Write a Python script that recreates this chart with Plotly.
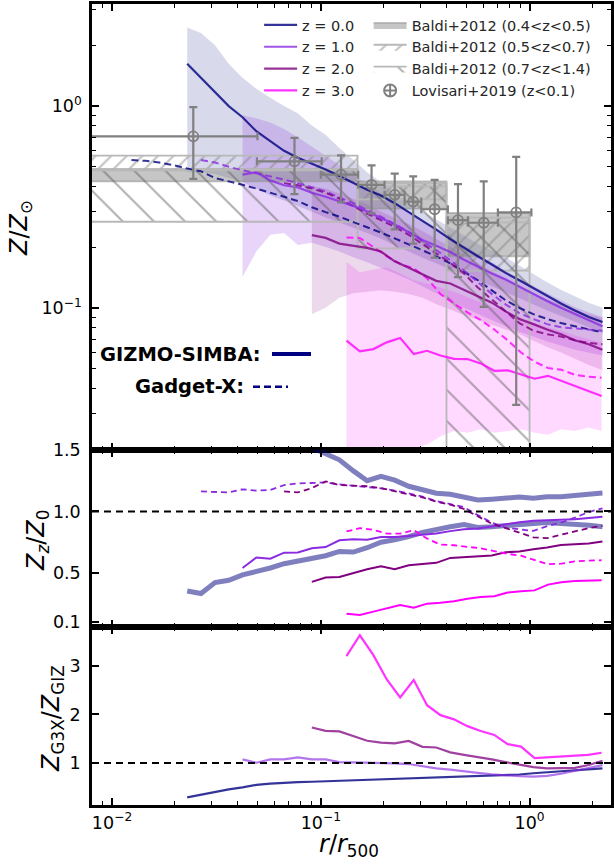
import plotly.graph_objects as go
from plotly.subplots import make_subplots

# ---------------- data ----------------
# common radial bins (r / r500)
r_grid = [0.02291, 0.02667, 0.03112, 0.03622, 0.04217, 0.04909, 0.05728, 0.06668,
          0.07762, 0.09057, 0.1054, 0.1227, 0.1432, 0.1667, 0.1941, 0.2259, 0.2636,
          0.3069, 0.3573, 0.4169, 0.4853, 0.5649, 0.6592, 0.7674, 0.8933, 1.042,
          1.213, 1.413, 1.648, 1.919, 2.234]
r_inner_g3x = [0.01239, 0.01445, 0.01683, 0.01963]
r_z3 = [0.1327, 0.1538, 0.1786, 0.2070, 0.2399, 0.2786, 0.3228, 0.3741, 0.4345, 0.5035,
        0.5834, 0.6776, 0.7852, 0.9099, 1.057, 1.225, 1.419, 1.644, 1.910, 2.213]

# GIZMO-SIMBA profiles Z/Zsun
giz_z0 = [1.62, 1.38, 1.18, 1.00, 0.88, 0.75, 0.67, 0.60, 0.555, 0.52, 0.485, 0.45, 0.415,
          0.385, 0.36, 0.33, 0.298, 0.27, 0.244, 0.219, 0.198, 0.18, 0.164, 0.149, 0.137,
          0.125, 0.114, 0.105, 0.097, 0.090, 0.085]
giz_z1 = [0.457, 0.469, 0.428, 0.405, 0.395, 0.372, 0.355, 0.336, 0.32, 0.30, 0.279, 0.259,
          0.237, 0.217, 0.203, 0.189, 0.173, 0.16, 0.148, 0.138, 0.127, 0.117, 0.108, 0.100,
          0.093, 0.087, 0.081]
giz_z2 = [0.229, 0.222, 0.208, 0.203, 0.198, 0.19, 0.17, 0.158, 0.146, 0.136, 0.132, 0.123,
          0.114, 0.106, 0.096, 0.088, 0.083, 0.078, 0.074, 0.069, 0.066, 0.062]
giz_z3 = [0.0687, 0.0608, 0.0624, 0.0674, 0.0709, 0.059, 0.0612, 0.058, 0.0558, 0.0557,
          0.053, 0.0487, 0.049, 0.0469, 0.0445, 0.046, 0.0434, 0.041, 0.0387, 0.0365]

# Gadget-X profiles
g3x_z0 = [0.54, 0.535, 0.525, 0.51, 0.49, 0.475, 0.44, 0.425, 0.407, 0.39, 0.373, 0.355,
          0.338, 0.315, 0.298, 0.283, 0.266, 0.251, 0.236, 0.221, 0.206, 0.193, 0.18, 0.166,
          0.151, 0.137, 0.122, 0.109, 0.1, 0.093, 0.088, 0.084, 0.081, 0.078, 0.0755]
g3x_z1 = [0.54, 0.525, 0.50, 0.48, 0.465, 0.45, 0.432, 0.415, 0.395, 0.378, 0.352, 0.33,
          0.305, 0.283, 0.26, 0.238, 0.214, 0.193, 0.172, 0.153, 0.134, 0.117, 0.104, 0.094,
          0.088, 0.083, 0.080, 0.079, 0.078, 0.077]
g3x_z2 = [0.415, 0.405, 0.39, 0.372, 0.348, 0.318, 0.293, 0.272, 0.252, 0.23, 0.207, 0.187,
          0.167, 0.148, 0.126, 0.11, 0.096, 0.084, 0.077, 0.074, 0.072, 0.069, 0.067, 0.066]
g3x_z3 = [0.223, 0.222, 0.2, 0.18, 0.165, 0.157, 0.14, 0.117, 0.105, 0.095, 0.087, 0.078,
          0.069, 0.06, 0.054, 0.0503, 0.0493, 0.0466, 0.0455, 0.045]

# GIZMO-SIMBA scatter bands
band_z0_hi = [2.45, 2.3, 2.0, 1.62, 1.38, 1.22, 1.1, 1.0, 0.92, 0.8, 0.72, 0.62, 0.54, 0.47,
              0.42, 0.365, 0.33, 0.30, 0.275, 0.25, 0.228, 0.208, 0.192, 0.178, 0.162, 0.147,
              0.134, 0.123, 0.114, 0.106, 0.10]
band_z0_lo = [0.47, 0.47, 0.46, 0.44, 0.42, 0.39, 0.36, 0.34, 0.32, 0.30, 0.28, 0.265, 0.25,
              0.235, 0.22, 0.205, 0.19, 0.177, 0.165, 0.155, 0.145, 0.136, 0.128, 0.12, 0.112,
              0.104, 0.097, 0.091, 0.085, 0.08, 0.075]
band_z1_hi = [0.90, 0.87, 0.83, 0.77, 0.70, 0.63, 0.57, 0.51, 0.455, 0.41, 0.37, 0.335, 0.30,
              0.272, 0.247, 0.224, 0.203, 0.184, 0.168, 0.153, 0.14, 0.128, 0.118, 0.109,
              0.101, 0.095, 0.09]
band_z1_lo = [0.142, 0.19, 0.23, 0.235, 0.205, 0.21, 0.2, 0.19, 0.178, 0.168, 0.158, 0.148,
              0.138, 0.128, 0.118, 0.109, 0.1, 0.093, 0.087, 0.081, 0.076, 0.072, 0.068, 0.065,
              0.062, 0.06, 0.058]
band_z2_hi = [0.40, 0.39, 0.37, 0.345, 0.325, 0.30, 0.28, 0.26, 0.24, 0.22, 0.20, 0.182, 0.166,
              0.152, 0.14, 0.128, 0.118, 0.11, 0.104, 0.098, 0.093, 0.089]
band_z2_lo = [0.093, 0.1, 0.112, 0.118, 0.12, 0.122, 0.12, 0.117, 0.112, 0.104, 0.098, 0.092,
              0.087, 0.082, 0.078, 0.074, 0.069, 0.064, 0.06, 0.056, 0.052, 0.049]
band_z3_hi = [0.169, 0.15, 0.155, 0.159, 0.148, 0.137, 0.132, 0.126, 0.12, 0.113, 0.106, 0.1,
              0.095, 0.089, 0.084, 0.08, 0.077, 0.073, 0.07, 0.067]
band_z3_lo = [0.019, 0.019, 0.019, 0.0195, 0.0195, 0.02, 0.021, 0.023, 0.0245, 0.024, 0.025,
              0.024, 0.0245, 0.025, 0.024, 0.0235, 0.025, 0.0245, 0.0255, 0.0245]

# Baldi+2012 boxes: radial bin edges and Z ranges per bin
baldi_edges = [0.001, 0.15, 0.4, 1.0]
baldi_045_lo = [0.423, 0.31, 0.18]
baldi_045_hi = [0.487, 0.423, 0.295]
baldi_057_lo = [0.487, 0.345, 0.153]
baldi_057_hi = [0.568, 0.415, 0.28]
baldi_0714_lo = [0.267, 0.197, 0.012]
baldi_0714_hi = [0.48, 0.40, 0.265]

# Lovisari+2019
lov_r = [0.0245, 0.0748, 0.125, 0.175, 0.226, 0.277, 0.351, 0.454, 0.603, 0.863]
lov_z = [0.708, 0.532, 0.457, 0.407, 0.363, 0.336, 0.308, 0.272, 0.264, 0.297]
lov_r_lo = [0.001, 0.0494, 0.1, 0.151, 0.202, 0.252, 0.303, 0.406, 0.507, 0.705]
lov_r_hi = [0.0497, 0.101, 0.151, 0.202, 0.252, 0.303, 0.406, 0.507, 0.705, 1.02]
lov_z_lo = [0.436, 0.366, 0.333, 0.294, 0.245, 0.208, 0.177, 0.142, 0.101, 0.033]
lov_z_hi = [0.989, 0.695, 0.57, 0.508, 0.462, 0.448, 0.431, 0.41, 0.423, 0.56]

# middle panel: Z_z / Z_0
thick_a = [0.353, 0.332, 0.421, 0.44, 0.484, 0.51, 0.54, 0.575, 0.595, 0.61, 0.64, 0.675,
           0.67, 0.705, 0.75, 0.77, 0.795, 0.83, 0.855, 0.875, 0.893, 0.87, 0.876, 0.885,
           0.895, 0.905, 0.91, 0.903, 0.898, 0.888, 0.876]
thick_b = [1.68, 1.52, 1.47, 1.42, 1.33, 1.25, 1.285, 1.255, 1.205, 1.172, 1.148, 1.14, 1.112,
           1.093, 1.1, 1.113, 1.117, 1.108, 1.12, 1.12, 1.13, 1.14, 1.15]
ratio_giz_z1 = [0.54, 0.625, 0.615, 0.665, 0.666, 0.70, 0.71, 0.765, 0.774, 0.77, 0.793, 0.793,
                0.80, 0.812, 0.82, 0.84, 0.856, 0.862, 0.88, 0.90, 0.912, 0.924, 0.928, 0.93,
                0.937, 0.946, 0.957]
ratio_giz_z2 = [0.427, 0.462, 0.467, 0.50, 0.53, 0.555, 0.53, 0.562, 0.572, 0.582, 0.622, 0.628,
                0.636, 0.642, 0.668, 0.675, 0.693, 0.707, 0.728, 0.737, 0.74, 0.755]
ratio_giz_z3 = [0.168, 0.158, 0.185, 0.21, 0.239, 0.217, 0.25, 0.257, 0.27, 0.29, 0.305, 0.31,
                0.34, 0.35, 0.358, 0.405, 0.425, 0.435, 0.44, 0.44]
ratio_g3x_z1 = [1.163, 1.158, 1.155, 1.18, 1.17, 1.175, 1.215, 1.228, 1.232, 1.236, 1.22, 1.21,
                1.198, 1.188, 1.17, 1.148, 1.12, 1.085, 1.06, 1.035, 0.97, 0.91, 0.868, 0.855,
                0.842, 0.88, 0.91, 0.95, 0.995, 1.025]
ratio_g3x_z2 = [1.163, 1.155, 1.19, 1.245, 1.215, 1.21, 1.205, 1.19, 1.165, 1.135, 1.114, 1.08,
                1.055, 1.02, 0.96, 0.90, 0.865, 0.83, 0.79, 0.783, 0.81, 0.84, 0.865, 0.883]
ratio_g3x_z3 = [0.837, 0.864, 0.85, 0.82, 0.82, 0.848, 0.78, 0.73, 0.725, 0.715, 0.70, 0.678,
                0.655, 0.64, 0.605, 0.571, 0.575, 0.594, 0.6, 0.603]

# bottom panel: Z_G3X / Z_GIZ
code_z0 = [0.295, 0.35, 0.41, 0.46, 0.50, 0.55, 0.575, 0.597, 0.607, 0.616, 0.625, 0.64, 0.65,
           0.663, 0.675, 0.685, 0.69, 0.697, 0.70, 0.71, 0.72, 0.728, 0.737, 0.75, 0.765,
           0.79, 0.808, 0.828, 0.85, 0.87, 0.89]
code_z1 = [1.075, 1.007, 1.075, 1.078, 1.116, 1.076, 1.075, 1.02, 1.015, 1.012, 1.0, 0.995,
           0.98, 0.93, 0.89, 0.865, 0.84, 0.80, 0.77, 0.748, 0.73, 0.72, 0.735, 0.78, 0.84,
           0.9, 0.959]
code_z2 = [1.733, 1.664, 1.651, 1.55, 1.46, 1.42, 1.405, 1.455, 1.335, 1.32, 1.22, 1.17, 1.13,
           1.075, 1.02, 0.96, 0.915, 0.89, 0.89, 0.9, 0.96, 1.048]
code_z3 = [3.2, 3.63, 3.22, 2.72, 2.35, 2.71, 2.19, 1.986, 1.9, 1.76, 1.66, 1.58, 1.39, 1.34,
           1.1, 1.116, 1.13, 1.15, 1.17, 1.212]

z_labels = ["z = 0.0", "z = 1.0", "z = 2.0", "z = 3.0"]

# ---------------- styling ----------------
LINE = ["rgba(0,0,128,0.8)", "rgba(138,43,226,0.8)", "rgba(128,0,128,0.8)", "rgba(255,0,255,0.8)"]
FULL = ["#000080", "#8a2be2", "#800080", "#ff00ff"]
BAND = ["rgba(0,0,128,0.15)", "rgba(138,43,226,0.2)", "rgba(128,0,128,0.15)", "rgba(255,0,255,0.15)"]
GREY = "#808080"
DASH = "7px,4px"

fig = make_subplots(rows=3, cols=1, shared_xaxes=True, vertical_spacing=0)

r_g3x0 = r_inner_g3x + r_grid
band_sets = [(r_grid, band_z0_lo, band_z0_hi), (r_grid[4:], band_z1_lo, band_z1_hi),
             (r_grid[9:], band_z2_lo, band_z2_hi), (r_z3, band_z3_lo, band_z3_hi)]
for i, (rr, lo, hi) in enumerate(band_sets):
    fig.add_trace(go.Scatter(x=rr + rr[::-1], y=hi + lo[::-1], fill="toself", fillcolor=BAND[i],
                             line=dict(width=0), mode="lines", hoverinfo="skip",
                             showlegend=False), row=1, col=1)


def boxes(lo, hi):
    xs, ys = [], []
    for k in range(len(lo)):
        a, b = baldi_edges[k], baldi_edges[k + 1]
        xs += [a, b, b, a, a, None]
        ys += [lo[k], lo[k], hi[k], hi[k], lo[k], None]
    return xs, ys


bx, by = boxes(baldi_045_lo, baldi_045_hi)
fig.add_trace(go.Scatter(x=bx, y=by, fill="toself", fillcolor="rgba(128,128,128,0.45)",
                         line=dict(color="rgba(150,150,150,0.6)", width=1.8), mode="lines",
                         name="Baldi+2012 (0.4<z<0.5)", legend="legend2"), row=1, col=1)
bx, by = boxes(baldi_057_lo, baldi_057_hi)
fig.add_trace(go.Scatter(x=bx, y=by, fill="toself", fillcolor="rgba(0,0,0,0)",
                         fillpattern=dict(shape="/", fgcolor="#858585", bgcolor="rgba(0,0,0,0)",
                                          size=11, solidity=0.2),
                         line=dict(color="#b8b8b8", width=1.8), mode="lines",
                         name="Baldi+2012 (0.5<z<0.7)", legend="legend2"), row=1, col=1)
bx, by = boxes(baldi_0714_lo, baldi_0714_hi)
fig.add_trace(go.Scatter(x=bx, y=by, fill="toself", fillcolor="rgba(0,0,0,0)",
                         fillpattern=dict(shape="\\", fgcolor="#5e5e5e", bgcolor="rgba(0,0,0,0)",
                                          size=22, solidity=0.09),
                         line=dict(color="#b8b8b8", width=1.8), mode="lines",
                         name="Baldi+2012 (0.7<z<1.4)", legend="legend2"), row=1, col=1)

# Gadget-X dashed profiles
for i, (rr, zz) in enumerate([(r_g3x0, g3x_z0), (r_grid[1:], g3x_z1), (r_grid[7:], g3x_z2),
                              (r_z3, g3x_z3)]):
    fig.add_trace(go.Scatter(x=rr, y=zz, mode="lines", line=dict(color=LINE[i], width=2, dash=DASH),
                             showlegend=False), row=1, col=1)

# GIZMO-SIMBA solid profiles
for i, (rr, zz) in enumerate([(r_grid, giz_z0), (r_grid[4:], giz_z1), (r_grid[9:], giz_z2),
                              (r_z3, giz_z3)]):
    fig.add_trace(go.Scatter(x=rr, y=zz, mode="lines", line=dict(color=LINE[i], width=2.2),
                             name=z_labels[i], legend="legend"), row=1, col=1)

# Lovisari points
fig.add_trace(go.Scatter(
    x=lov_r, y=lov_z, mode="markers", showlegend=False,
    marker=dict(symbol="circle-open", size=10, color=GREY, line=dict(width=1.8, color=GREY)),
    error_x=dict(type="data", symmetric=False,
                 array=[h - v for h, v in zip(lov_r_hi, lov_r)],
                 arrayminus=[v - l for v, l in zip(lov_r, lov_r_lo)],
                 color=GREY, thickness=2.2, width=4),
    error_y=dict(type="data", symmetric=False,
                 array=[h - v for h, v in zip(lov_z_hi, lov_z)],
                 arrayminus=[v - l for v, l in zip(lov_z, lov_z_lo)],
                 color=GREY, thickness=2.2, width=4)), row=1, col=1)
fig.add_trace(go.Scatter(x=[None], y=[None], mode="markers", name="Lovisari+2019 (z<0.1)",
                         legend="legend2",
                         marker=dict(symbol="circle-cross-open", size=12, color=GREY,
                                     line=dict(width=2, color=GREY))), row=1, col=1)

# middle panel
fig.add_trace(go.Scatter(x=r_grid, y=thick_a, mode="lines", showlegend=False,
                         line=dict(color="rgba(0,0,128,0.5)", width=5)), row=2, col=1)
fig.add_trace(go.Scatter(x=r_grid[8:], y=thick_b, mode="lines", showlegend=False,
                         line=dict(color="rgba(0,0,128,0.5)", width=5)), row=2, col=1)
for i, (rr, zz) in enumerate([(r_grid[4:], ratio_giz_z1), (r_grid[9:], ratio_giz_z2),
                              (r_z3, ratio_giz_z3)], start=1):
    fig.add_trace(go.Scatter(x=rr, y=zz, mode="lines", showlegend=False,
                             line=dict(color=FULL[i], width=2)), row=2, col=1)
for i, (rr, zz) in enumerate([(r_grid[1:], ratio_g3x_z1), (r_grid[7:], ratio_g3x_z2),
                              (r_z3, ratio_g3x_z3)], start=1):
    fig.add_trace(go.Scatter(x=rr, y=zz, mode="lines", showlegend=False,
                             line=dict(color=FULL[i], width=1.8, dash="6px,4px")), row=2, col=1)

# bottom panel
BOT = ["rgba(0,0,128,0.8)", "rgba(138,43,226,0.65)", "rgba(128,0,128,0.75)", "rgba(255,0,255,0.8)"]
for i, (rr, zz) in enumerate([(r_grid, code_z0), (r_grid[4:], code_z1), (r_grid[9:], code_z2),
                              (r_z3, code_z3)]):
    fig.add_trace(go.Scatter(x=rr, y=zz, mode="lines", showlegend=False,
                             line=dict(color=BOT[i], width=2.2)), row=3, col=1)

for row in (2, 3):
    fig.add_hline(y=1, row=row, col=1, line=dict(color="black", width=2, dash="7px,5px"))

# ---------------- axes ----------------
x_minor = [0.009, 0.02, 0.03, 0.04, 0.05, 0.06, 0.07, 0.08, 0.09,
           0.2, 0.3, 0.4, 0.5, 0.6, 0.7, 0.8, 0.9, 2]
y_minor = [0.02, 0.03, 0.04, 0.05, 0.06, 0.07, 0.08, 0.09,
           0.2, 0.3, 0.4, 0.5, 0.6, 0.7, 0.8, 0.9, 2, 3]
common = dict(showline=True, linecolor="black", linewidth=2.5, mirror="allticks",
              ticks="inside", ticklen=7, tickwidth=1.6, tickcolor="black",
              showgrid=False, zeroline=False, automargin=False)
for k in (1, 2, 3):
    fig.update_layout({f"xaxis{'' if k == 1 else k}": dict(
        type="log", range=[-2.096, 0.39], tickvals=[0.01, 0.1, 1],
        ticktext=["10<sup>−2</sup>", "10<sup>−1</sup>", "10<sup>0</sup>"],
        showticklabels=(k == 3),
        minor=dict(ticks="inside", ticklen=4, tickwidth=1.2, tickcolor="black", tickvals=x_minor),
        **common)})

fig.update_layout(
    yaxis=dict(type="log", range=[-1.705, 0.506], domain=[0.4432, 1.0], tickvals=[0.1, 1],
               ticktext=["10<sup>−1</sup>", "10<sup>0</sup>"], ticklabelstandoff=4,
               minor=dict(ticks="inside", ticklen=4, tickwidth=1.2, tickcolor="black",
                          tickvals=y_minor), **common),
    yaxis2=dict(range=[0.06, 1.5], domain=[0.2222, 0.4432], tickvals=[0.1, 0.5, 1.0, 1.5],
                ticktext=["0.1", "0.5", "1.0", "1.5"], ticklabelstandoff=5, **common),
    yaxis3=dict(range=[0.137, 3.8], domain=[0.0, 0.2222], tickvals=[1, 2, 3],
                ticktext=["1", "2", "3"], ticklabelstandoff=5, **common),
)

# ---------------- legends & labels ----------------
leg = dict(xanchor="left", yanchor="top", bgcolor="rgba(0,0,0,0)", borderwidth=0,
           font=dict(family="DejaVu Sans", size=14.5, color="#262626"), itemwidth=33)
fig.update_layout(
    width=614, height=864, margin=dict(l=92, r=3, t=4, b=59, autoexpand=False),
    plot_bgcolor="white", paper_bgcolor="white",
    font=dict(family="DejaVu Sans", size=17.5, color="black"),
    legend=dict(x=0.322, y=0.9938, **leg),
    legend2=dict(x=0.533, y=0.9938, **leg),
)

ann_font = dict(family="DejaVu Sans", size=24, color="black")
lab = dict(xref="paper", yref="paper", showarrow=False, xanchor="center", yanchor="middle",
           font=ann_font)
fig.add_annotation(text="<i>Z</i>/<i>Z</i><sub>⊙</sub>", x=-0.1387, y=0.7203, textangle=-90, **lab)
fig.add_annotation(text="<i>Z<sub>z</sub></i>/<i>Z</i><sub>0</sub>", x=-0.106, y=0.3308,
                   textangle=-90, **lab)
fig.add_annotation(text="<i>Z</i><sub>G3X</sub>/<i>Z</i><sub>GIZ</sub>", x=-0.0771, y=0.1086,
                   textangle=-90, **lab)
fig.add_annotation(text="<i>r</i>/<i>r</i><sub>500</sub>", x=0.495, y=-0.05, **lab)

bold = dict(family="DejaVu Sans", size=19.5, color="black")
fig.add_annotation(text="<b>GIZMO-SIMBA:</b>", xref="x domain", yref="y domain", x=0.3295,
                   y=0.2152, xanchor="right", yanchor="middle", showarrow=False, font=bold)
fig.add_annotation(text="<b>Gadget-X:</b>", xref="x domain", yref="y domain", x=0.2967,
                   y=0.1419, xanchor="right", yanchor="middle", showarrow=False, font=bold)
fig.add_shape(type="line", xref="x domain", yref="y domain", x0=0.3468, x1=0.4220,
              y0=0.2152, y1=0.2152, line=dict(color="#000080", width=4))
fig.add_shape(type="line", xref="x domain", yref="y domain", x0=0.3102, x1=0.3776,
              y0=0.1419, y1=0.1419, line=dict(color="#000080", width=2.5, dash="7px,4px"))

fig.write_html("out.html", config={"displayModeBar": False},
               post_script="document.body.style.margin='0px';"
                           "document.body.style.overflow='hidden';")
